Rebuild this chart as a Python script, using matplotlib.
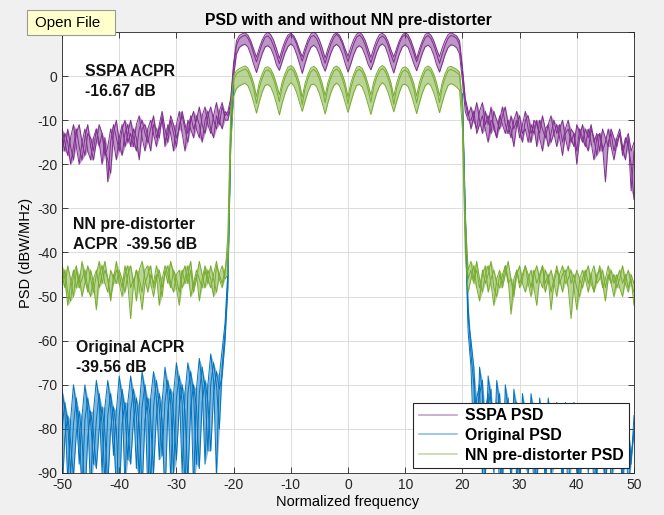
import numpy as np
import matplotlib
matplotlib.use('Agg')
import matplotlib.pyplot as plt
from matplotlib.lines import Line2D
from matplotlib.patches import Rectangle

plt.rcParams['font.family'] = ['Liberation Sans', 'DejaVu Sans']
plt.rcParams['axes.unicode_minus'] = False

# frequency grids, step 0.5
freq = np.arange(-50, 50.25, 0.5)          # full band
freq_lo = np.arange(-50, -19.75, 0.5)      # original PSD, lower side + rise
freq_hi = np.arange(20, 50.25, 0.5)        # original PSD, fall + upper side

# ---- SSPA PSD (purple), 3 traces: left side (-50..-21.5), band (-21..21), right side (21.5..50)
sspa_left = [
    [-14, -17, -12, -16, -19, -13, -11, -15, -18, -13,
     -14, -17, -12, -15, -20, -14, -24, -15, -11, -14,
     -17, -12, -10, -15, -13, -16, -11, -9, -14, -17,
     -12, -10, -13, -16, -11, -8, -12, -15, -10, -13,
     -16, -11, -9, -12, -15, -10, -8, -12, -14, -9,
     -7, -11, -13, -9, -6, -10, -12, -8],
    [-17, -13, -15, -20, -16, -12, -16, -19, -14, -11,
     -16, -19, -15, -11, -13, -18, -16, -12, -15, -19,
     -14, -11, -16, -13, -10, -14, -17, -12, -10, -13,
     -15, -12, -9, -14, -12, -10, -15, -13, -9, -11,
     -14, -12, -8, -11, -13, -9, -12, -10, -7, -11,
     -13, -9, -7, -10, -12, -8, -6, -10],
    [-12, -15, -18, -14, -11, -16, -20, -15, -12, -17,
     -19, -14, -12, -16, -13, -17, -19, -22, -13, -10,
     -15, -18, -13, -11, -16, -12, -14, -19, -12, -11,
     -14, -17, -11, -12, -14, -9, -16, -11, -13, -17,
     -11, -8, -13, -17, -10, -12, -14, -9, -11, -15,
     -10, -8, -12, -14, -9, -11, -7, -9],
]
sspa_band = [
    [-9, -6, 2, 7, 8.5, 9,
     9.3, 8.6, 7.2, 5.1, 3.2, 5.4, 7.4, 8.8,
     9.1, 8.4, 6.8, 4.9, 2.8, 5.0, 7.1, 8.6,
     9.4, 8.7, 7.3, 5.3, 3.4, 5.5, 7.5, 8.9,
     9.2, 8.5, 7.0, 4.8, 2.9, 5.2, 7.2, 8.7,
     9.5, 8.8, 7.4, 5.2, 3.3, 5.3, 7.3, 8.8,
     9.3, 8.6, 7.1, 5.0, 3.0, 5.1, 7.2, 8.6,
     9.1, 8.5, 7.0, 4.9, 3.1, 5.4, 7.5, 8.9,
     9.4, 8.7, 7.2, 5.2, 3.2, 5.2, 7.3, 8.7,
     9.2, 8.5, 7.0, 5.0, 2.9, 5.1, 7.1, 8.6,
     9.2,
     9, 8.5, 7, 1, -6, -9],
    [-10, -7, 0, 5, 6.5, 7.0,
     7.2, 6.6, 4.9, 2.7, 0.8, 3.0, 5.1, 6.6,
     6.9, 6.3, 4.7, 2.5, 1.3, 3.3, 5.3, 6.7,
     7.3, 6.7, 5.0, 2.9, 0.6, 2.9, 5.0, 6.5,
     7.0, 6.4, 4.8, 2.6, 1.1, 3.1, 5.2, 6.7,
     7.2, 6.6, 5.1, 2.9, 0.9, 2.8, 4.9, 6.4,
     6.9, 6.3, 4.7, 2.7, 1.4, 3.2, 5.3, 6.8,
     7.3, 6.7, 4.9, 2.6, 0.7, 3.0, 5.1, 6.6,
     7.1, 6.5, 4.8, 2.8, 1.2, 3.1, 5.2, 6.7,
     7.0, 6.4, 4.7, 2.5, 0.9, 2.9, 5.0, 6.5,
     7.1,
     6.9, 6.4, 5, -1, -8, -10],
    [-8, -5, 3, 8, 9.2, 9.6,
     9.8, 9.3, 8.0, 6.1, 4.3, 6.4, 8.2, 9.4,
     9.9, 9.4, 8.1, 6.2, 4.0, 6.2, 8.0, 9.3,
     9.7, 9.2, 7.9, 6.0, 4.4, 6.5, 8.3, 9.5,
     10.0, 9.5, 8.2, 6.3, 4.1, 6.3, 8.1, 9.4,
     9.8, 9.3, 8.0, 6.1, 4.5, 6.6, 8.3, 9.5,
     9.9, 9.4, 8.1, 6.2, 4.2, 6.4, 8.2, 9.4,
     9.7, 9.2, 7.9, 6.0, 4.3, 6.3, 8.1, 9.3,
     9.9, 9.4, 8.1, 6.2, 4.0, 6.2, 8.0, 9.4,
     9.8, 9.3, 8.0, 6.1, 4.4, 6.5, 8.2, 9.4,
     9.8,
     9.5, 9.1, 8, 2, -5, -8],
]
sspa_right = [
    [-7, -10, -12, -8, -6, -11, -9, -13, -8, -10,
     -12, -9, -7, -11, -14, -10, -8, -12, -15, -10,
     -9, -13, -11, -16, -10, -12, -14, -11, -9, -13,
     -16, -12, -10, -14, -17, -12, -13, -20, -14, -11,
     -15, -17, -12, -14, -18, -13, -16, -24, -15, -13,
     -17, -14, -12, -16, -19, -14, -26, -17],
    [-10, -8, -13, -11, -9, -12, -15, -10, -11, -14,
     -9, -11, -13, -10, -12, -16, -11, -9, -13, -12,
     -15, -11, -13, -10, -14, -17, -12, -11, -15, -13,
     -11, -14, -18, -13, -12, -15, -13, -17, -12, -14,
     -16, -12, -15, -19, -14, -13, -17, -15, -12, -16,
     -19, -15, -13, -17, -14, -16, -20, -28],
    [-12, -9, -6, -10, -13, -8, -11, -7, -12, -14,
     -10, -7, -11, -13, -9, -12, -10, -14, -11, -8,
     -12, -15, -10, -11, -13, -9, -12, -16, -13, -10,
     -13, -11, -15, -12, -10, -14, -16, -11, -13, -15,
     -12, -14, -11, -15, -13, -17, -12, -14, -16, -12,
     -14, -16, -13, -18, -15, -13, -17, -15],
]

# ---- NN pre-distorter PSD (green)
nn_left = [
    [-45, -48, -43, -46, -50, -44, -47, -42, -46, -49,
     -44, -47, -53, -45, -43, -47, -49, -44, -46, -42,
     -47, -50, -45, -43, -48, -46, -51, -44, -42, -46,
     -49, -45, -47, -43, -46, -50, -44, -47, -42, -45,
     -48, -52, -45, -43, -47, -44, -49, -46, -42, -45,
     -48, -44, -46, -50, -43, -45, -47, -44],
    [-47, -44, -49, -51, -45, -43, -48, -46, -44, -48,
     -50, -46, -44, -48, -45, -42, -46, -50, -47, -44,
     -45, -48, -43, -47, -55, -47, -44, -46, -49, -44,
     -43, -47, -50, -46, -44, -48, -45, -43, -47, -49,
     -45, -44, -48, -46, -43, -50, -47, -44, -46, -48,
     -44, -47, -43, -46, -49, -45, -43, -46],
    [-43, -46, -52, -47, -44, -48, -45, -50, -47, -43,
     -46, -49, -45, -42, -47, -44, -46, -51, -45, -47,
     -44, -46, -49, -45, -43, -47, -44, -48, -53, -47,
     -45, -43, -48, -45, -52, -46, -43, -45, -48, -44,
     -46, -49, -44, -47, -45, -42, -48, -45, -51, -46,
     -43, -46, -48, -45, -42, -46, -48, -45],
]
nn_band = [
    [-40, -10, -1, 0.5, 1.0, 1.3,
     1.6, 1.0, -0.6, -2.8, -6.2, -2.6, -0.4, 1.1,
     1.4, 0.8, -0.8, -3.0, -5.8, -2.4, -0.3, 1.2,
     1.7, 1.1, -0.5, -2.7, -6.5, -2.8, -0.6, 1.0,
     1.5, 0.9, -0.7, -2.9, -6.0, -2.5, -0.4, 1.1,
     1.6, 1.0, -0.6, -2.8, -6.3, -2.7, -0.5, 1.2,
     1.5, 0.9, -0.7, -3.0, -5.9, -2.5, -0.3, 1.1,
     1.7, 1.1, -0.5, -2.6, -6.4, -2.8, -0.6, 1.0,
     1.4, 0.8, -0.8, -2.9, -6.1, -2.6, -0.4, 1.1,
     1.6, 1.0, -0.6, -2.8, -6.0, -2.4, -0.3, 1.2,
     1.5,
     1.2, 0.8, 0.2, -8, -35, -46],
    [-45, -16, -4.5, -2.8, -2.2, -1.9,
     -1.6, -2.2, -3.8, -6.0, -8.4, -5.8, -3.6, -2.1,
     -1.9, -2.5, -4.1, -6.3, -8.8, -6.1, -3.9, -2.3,
     -1.5, -2.1, -3.7, -5.9, -8.0, -5.7, -3.5, -2.0,
     -1.8, -2.4, -4.0, -6.2, -8.6, -6.0, -3.8, -2.2,
     -1.6, -2.2, -3.8, -6.0, -8.2, -5.9, -3.7, -2.1,
     -1.9, -2.5, -4.2, -6.4, -8.7, -6.1, -3.9, -2.3,
     -1.5, -2.1, -3.7, -5.9, -8.1, -5.8, -3.6, -2.0,
     -1.8, -2.4, -4.0, -6.2, -8.5, -6.0, -3.8, -2.2,
     -1.6, -2.2, -3.8, -6.0, -8.3, -5.9, -3.7, -2.1,
     -1.7,
     -2.0, -2.5, -3.2, -12, -40, -49],
    [-36, -7, 0, 1.2, 1.7, 2.0,
     2.3, 1.8, 0.4, -1.6, -4.6, -1.4, 0.5, 1.9,
     2.1, 1.6, 0.2, -1.8, -4.2, -1.3, 0.6, 2.0,
     2.4, 1.9, 0.5, -1.5, -4.8, -1.6, 0.4, 1.8,
     2.2, 1.7, 0.3, -1.7, -4.4, -1.4, 0.5, 1.9,
     2.3, 1.8, 0.4, -1.6, -4.7, -1.5, 0.4, 2.0,
     2.2, 1.7, 0.3, -1.8, -4.3, -1.3, 0.6, 1.9,
     2.4, 1.9, 0.5, -1.5, -4.6, -1.6, 0.4, 1.8,
     2.1, 1.6, 0.2, -1.7, -4.5, -1.4, 0.5, 1.9,
     2.3, 1.8, 0.4, -1.6, -4.4, -1.3, 0.6, 2.0,
     2.2,
     1.9, 1.5, 0.9, -6, -32, -44],
]
nn_right = [
    [-44, -47, -42, -46, -49, -45, -43, -47, -52, -46,
     -44, -48, -45, -42, -46, -49, -44, -47, -45, -43,
     -47, -50, -45, -43, -46, -48, -44, -46, -53, -47,
     -44, -46, -49, -45, -43, -47, -45, -48, -50, -46,
     -44, -47, -45, -49, -46, -43, -47, -51, -46, -44,
     -47, -45, -48, -50, -46, -44, -47, -49],
    [-46, -43, -48, -51, -44, -47, -45, -42, -48, -50,
     -45, -47, -43, -46, -54, -46, -44, -48, -46, -43,
     -45, -48, -44, -47, -45, -43, -49, -46, -44, -47,
     -50, -45, -43, -47, -46, -44, -48, -53, -46, -44,
     -46, -49, -45, -43, -47, -46, -44, -48, -45, -47,
     -50, -46, -44, -47, -45, -48, -46, -52],
    [-42, -46, -44, -48, -45, -43, -49, -46, -44, -47,
     -48, -45, -43, -47, -46, -50, -45, -43, -47, -49,
     -46, -44, -48, -52, -46, -43, -47, -45, -49, -46,
     -43, -47, -45, -44, -48, -55, -47, -44, -46, -48,
     -45, -43, -47, -49, -45, -44, -48, -46, -43, -47,
     -45, -48, -46, -43, -47, -49, -45, -47],
]

# ---- Original PSD (blue), side lobes only; in-band part lies under the green traces
orig_left = [
    [-71, -76, -92, -78, -70, -75, -88, -77, -70, -76, -95, -76,
     -69, -74, -90, -75, -69, -75, -86, -76, -68, -73, -93, -74,
     -68, -74, -89, -75, -67, -72, -95, -73, -67, -73, -87, -74,
     -66, -72, -92, -72, -65, -71, -90, -72, -65, -70, -94, -71,
     -64, -70, -88, -70, -63, -69, -91, -68, -62, -56],
    [-80, -74, -79, -90, -79, -73, -80, -94, -78, -73, -78, -88,
     -78, -72, -79, -92, -77, -72, -78, -95, -77, -71, -76, -87,
     -76, -71, -77, -91, -75, -70, -76, -93, -75, -69, -75, -86,
     -74, -69, -74, -90, -73, -68, -74, -94, -72, -67, -72, -88,
     -72, -66, -71, -85, -70, -65, -70, -80, -66, -58],
    [-95, -82, -77, -83, -91, -81, -76, -82, -96, -82, -76, -81,
     -89, -80, -75, -81, -93, -80, -75, -80, -97, -79, -74, -79,
     -88, -78, -73, -79, -94, -78, -73, -78, -90, -77, -72, -78,
     -96, -76, -71, -77, -87, -75, -70, -76, -92, -75, -70, -75,
     -89, -74, -69, -74, -85, -72, -67, -71, -68, -60],
]
orig_rise = [[-44, -12, -2], [-46, -14, -3], [-48, -15, -3]]
orig_fall = [[-4, -30, -52], [-5, -32, -55], [-6, -35, -58]]
orig_right = [
    [-63, -70, -88, -66, -72, -92, -68, -74, -86, -69, -75, -94,
     -70, -76, -89, -71, -77, -92, -72, -78, -87, -72, -78, -95,
     -73, -79, -90, -73, -79, -88, -74, -80, -93, -74, -80, -89,
     -74, -80, -94, -75, -81, -88, -75, -81, -91, -75, -81, -95,
     -75, -81, -89, -76, -82, -92, -76, -82, -88, -77],
    [-60, -66, -80, -72, -69, -85, -75, -71, -90, -77, -72, -86,
     -78, -73, -93, -79, -74, -88, -80, -75, -91, -80, -75, -87,
     -81, -76, -94, -81, -76, -89, -82, -77, -92, -82, -77, -86,
     -82, -77, -95, -83, -78, -90, -83, -78, -88, -83, -78, -93,
     -84, -78, -89, -84, -79, -94, -84, -79, -87, -80],
    [-66, -84, -73, -70, -91, -76, -72, -88, -78, -74, -95, -79,
     -75, -87, -80, -76, -92, -81, -77, -89, -82, -77, -94, -82,
     -78, -86, -83, -78, -91, -83, -79, -88, -84, -79, -96, -84,
     -79, -90, -85, -80, -87, -85, -80, -93, -85, -80, -89, -86,
     -80, -92, -86, -81, -88, -86, -81, -94, -86, -81],
]

c_sspa = '#7E2F8E'
c_orig = '#0072BD'
c_nn = '#77AC30'

fig = plt.figure(figsize=(6.64, 5.15), dpi=100, facecolor='#F0F0F0')
ax = fig.add_axes([0.0934, 0.0816, 0.8614, 0.8563])


def draw_family(x, traces, color):
    ys = np.array(traces, dtype=float)
    ax.fill_between(x, ys.min(axis=0), ys.max(axis=0), color=color, alpha=0.5, lw=0)
    for y in ys:
        ax.plot(x, y, color=color, lw=0.7)


draw_family(freq, [l + b + r for l, b, r in zip(sspa_left, sspa_band, sspa_right)], c_sspa)
draw_family(freq_lo, [l + r for l, r in zip(orig_left, orig_rise)], c_orig)
draw_family(freq_hi, [f + r for f, r in zip(orig_fall, orig_right)], c_orig)
draw_family(freq, [l + b + r for l, b, r in zip(nn_left, nn_band, nn_right)], c_nn)

yticks = np.arange(-90, 11, 10)
ax.set_xlim(-50, 50)
ax.set_ylim(-90, 10)
ax.set_xticks(np.arange(-50, 51, 10))
ax.set_yticks(yticks)
# the "10" label is hidden under the tooltip in the screenshot
ax.set_yticklabels([str(v) if v < 10 else '' for v in yticks])
ax.tick_params(direction='in', top=True, right=True, labelsize=10, length=4, width=0.6,
               colors='#262626')
ax.grid(True, color='#DCDCDC', lw=0.7)
ax.set_axisbelow(True)
for s in ax.spines.values():
    s.set_color('#262626')
    s.set_linewidth(0.6)

ax.set_title('PSD with and without NN pre-distorter', fontsize=11.3, fontweight='bold', pad=5)
ax.set_xlabel('Normalized frequency', fontsize=10.5, labelpad=2)
ax.set_ylabel('PSD (dBW/MHz)', fontsize=10.5, labelpad=3)

txt = dict(fontsize=11.4, fontweight='bold', ha='left', va='center', color='#111111')
ax.text(-46, 1.1, 'SSPA ACPR', **txt)
ax.text(-46, -3.6, '-16.67 dB', **txt)
ax.text(-48.1, -33.6, 'NN pre-distorter', **txt)
ax.text(-48.1, -38.3, 'ACPR  -39.56 dB', **txt)
ax.text(-47.5, -61.6, 'Original ACPR', **txt)
ax.text(-47.5, -66.1, '-39.56 dB', **txt)

handles = [Line2D([], [], color=c, lw=1.2, alpha=0.45) for c in (c_sspa, c_orig, c_nn)]
leg = ax.legend(handles, ['SSPA PSD', 'Original PSD', 'NN pre-distorter PSD'],
                loc='lower right', fancybox=False, framealpha=1, edgecolor='#262626',
                prop={'weight': 'bold', 'size': 11.4}, handlelength=2.4, handletextpad=0.5,
                borderaxespad=0.3, labelspacing=0.3, borderpad=0.35)
leg.get_frame().set_linewidth(0.8)

# tooltip box from the screenshot
fig.patches.append(Rectangle((27 / 664, 1 - 35 / 515), 88 / 664, 25 / 515,
                             transform=fig.transFigure, facecolor='#FFFFCC',
                             edgecolor='#999999', lw=0.8, zorder=9))
fig.text(35 / 664, 1 - 22.5 / 515, 'Open File', fontsize=10.8, ha='left', va='center', zorder=10)

fig.savefig('out.png', dpi=100, facecolor=fig.get_facecolor())
